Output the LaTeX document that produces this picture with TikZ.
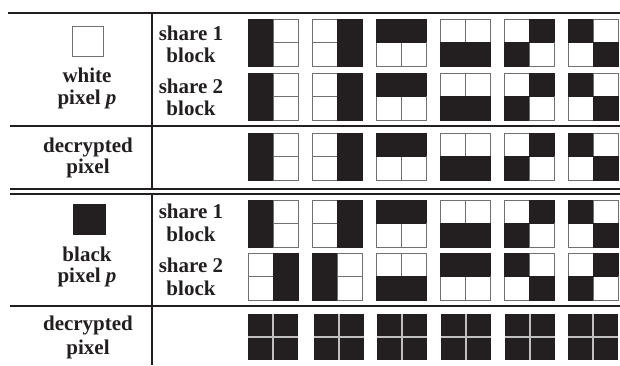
\documentclass[tikz,border=0pt]{standalone}
\usepackage{fontspec}
\setmainfont{Liberation Serif}
\definecolor{ink}{HTML}{231F20}
\definecolor{frame}{HTML}{707070}
\newcommand\blk[6]{%
  \begin{scope}[qw/.style={fill=white,draw=frame,line width=0.9pt},qk/.style={fill=ink,draw=ink,line width=0.9pt}]
  \path[#3] (#1,#2) rectangle ++(25,23.5);
  \path[#4] (#1+25,#2) rectangle ++(25,23.5);
  \path[#5] (#1,#2+23.5) rectangle ++(25,23.5);
  \path[#6] (#1+25,#2+23.5) rectangle ++(25,23.5);
  \end{scope}
  \begin{scope}[qw/.style={},qk/.style={fill=ink}]
  \path[#3] (#1,#2) rectangle ++(25,23.5);
  \path[#4] (#1+25,#2) rectangle ++(25,23.5);
  \path[#5] (#1,#2+23.5) rectangle ++(25,23.5);
  \path[#6] (#1+25,#2+23.5) rectangle ++(25,23.5);
  \end{scope}}
\newcommand\dblk[2]{%
  \fill[ink] (#1,#2) rectangle ++(50,46);
  \draw[gray!50,line width=1.3pt] (#1+25,#2) -- ++(0,46) (#1,#2+23) -- ++(50,0);}
\begin{document}
\begin{tikzpicture}[x=1pt,y=-1pt,
  lbl/.style={font=\fontsize{21}{23}\selectfont\bfseries,anchor=base,inner sep=0pt,text=ink},
  rule/.style={ink,line width=1.4pt}]
\useasboundingbox (0,0) rectangle (620,365);
% table rules
\draw[rule] (8,13) -- (620,13);
\draw[rule] (10,126) -- (620,126);
\draw[rule] (10,189) -- (620,189);
\draw[rule] (10,194) -- (620,194);
\draw[rule] (10,306) -- (620,306);
\draw[ink,line width=1.8pt] (152,13) -- (152,189);
\draw[ink,line width=1.8pt] (152,194) -- (152,365);
% pixel squares
\draw[frame,line width=0.9pt,fill=white] (72,26) rectangle (103,56);
\fill[ink] (73,204) rectangle (106,235);
% labels
\node[lbl] (white) at (87,82) {white};
\node[lbl] (wpix) at (87,104) {pixel \textit{p}};
\node[lbl] (s1a) at (191,40) {share 1};
\node[lbl] (b1a) at (191,62) {block};
\node[lbl] (s2a) at (191,93) {share 2};
\node[lbl] (b2a) at (191,115) {block};
\node[lbl] (deca) at (88,152) {decrypted};
\node[lbl] (pixa) at (88,173) {pixel};
\node[lbl] (black) at (87,261) {black};
\node[lbl] (bpix) at (87,282) {pixel \textit{p}};
\node[lbl] (s1b) at (191,218) {share 1};
\node[lbl] (b1b) at (191,241) {block};
\node[lbl] (s2b) at (191,272) {share 2};
\node[lbl] (b2b) at (191,295) {block};
\node[lbl] (decb) at (88,330) {decrypted};
\node[lbl] (pixb) at (88,354) {pixel};
% white pixel section
\foreach \y in {19,73,133}{
  \blk{248}{\y}{qk}{qw}{qk}{qw}
  \blk{312}{\y}{qw}{qk}{qw}{qk}
  \blk{376}{\y}{qk}{qk}{qw}{qw}
  \blk{440}{\y}{qw}{qw}{qk}{qk}
  \blk{504}{\y}{qw}{qk}{qk}{qw}
  \blk{568}{\y}{qk}{qw}{qw}{qk}
}
% black pixel section, share 1
\blk{248}{200}{qk}{qw}{qk}{qw}
\blk{312}{200}{qw}{qk}{qw}{qk}
\blk{376}{200}{qk}{qk}{qw}{qw}
\blk{440}{200}{qw}{qw}{qk}{qk}
\blk{504}{200}{qw}{qk}{qk}{qw}
\blk{568}{200}{qk}{qw}{qw}{qk}
% share 2
\blk{248}{253}{qw}{qk}{qw}{qk}
\blk{312}{253}{qk}{qw}{qk}{qw}
\blk{376}{253}{qw}{qw}{qk}{qk}
\blk{440}{253}{qk}{qk}{qw}{qw}
\blk{504}{253}{qk}{qw}{qw}{qk}
\blk{568}{253}{qw}{qk}{qk}{qw}
% decrypted
\foreach \x in {248,314,377,441,505,568}{\dblk{\x}{314}}
\end{tikzpicture}
\end{document}
